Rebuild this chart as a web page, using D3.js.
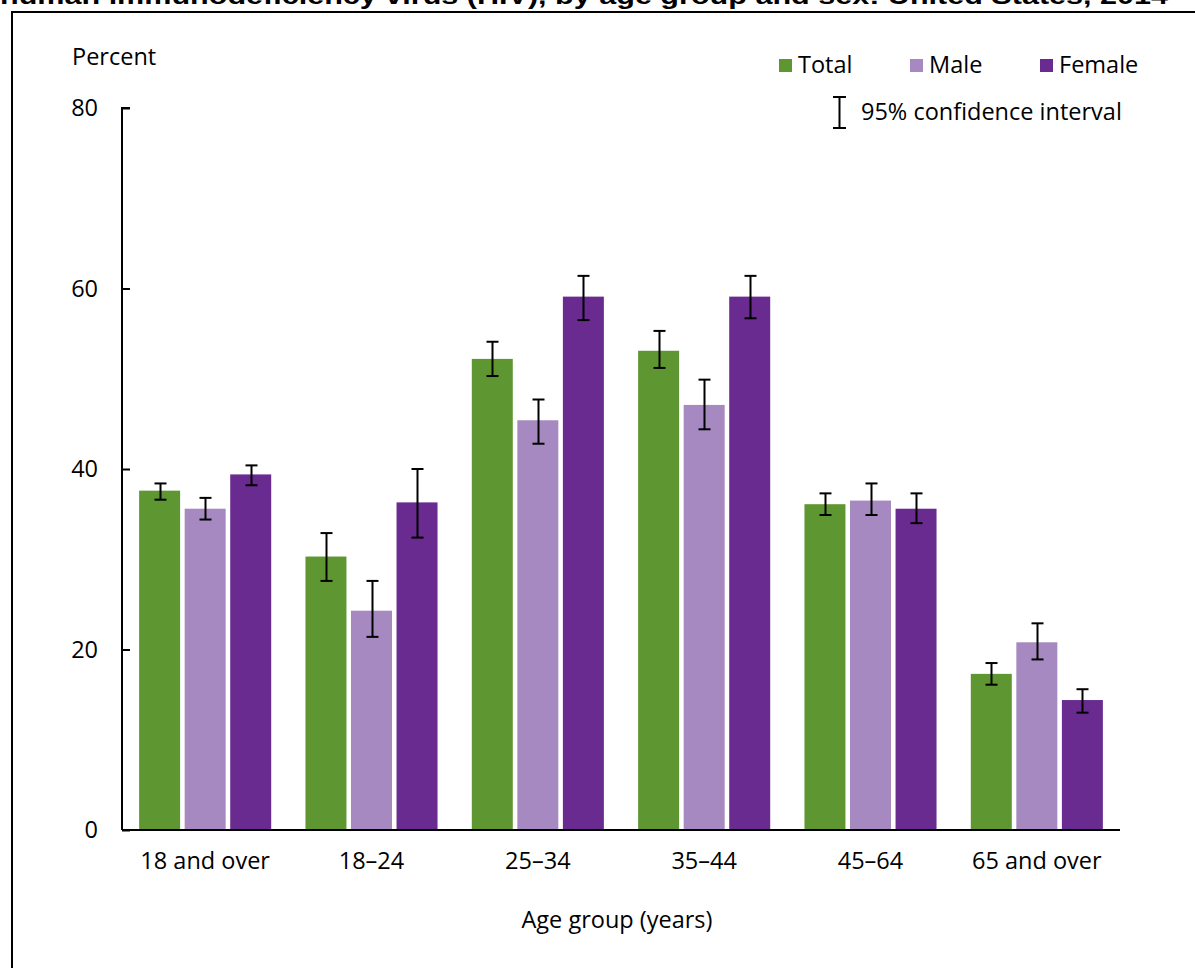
<!DOCTYPE html>
<html><head><meta charset="utf-8">
<script src="https://cdn.jsdelivr.net/npm/d3@7"></script>
<style>body{margin:0;background:#fff}svg{display:block}</style>
</head><body>
<script>
const categories = ["18 and over","18–24","25–34","35–44","45–64","65 and over"];
const seriesNames = ["Total","Male","Female"];
const totalVals  = [37.6, 30.3, 52.2, 53.1, 36.1, 17.3];
const totalLow   = [36.6, 27.6, 50.3, 51.2, 34.9, 16.1];
const totalHigh  = [38.4, 32.9, 54.1, 55.3, 37.3, 18.5];
const maleVals   = [35.6, 24.3, 45.4, 47.1, 36.5, 20.8];
const maleLow    = [34.4, 21.4, 42.8, 44.4, 34.9, 18.9];
const maleHigh   = [36.8, 27.6, 47.7, 49.9, 38.4, 22.9];
const femaleVals = [39.4, 36.3, 59.1, 59.1, 35.6, 14.4];
const femaleLow  = [38.2, 32.4, 56.5, 56.7, 34.0, 13.0];
const femaleHigh = [40.4, 40.0, 61.4, 61.4, 37.3, 15.6];
const yTicks = [0, 20, 40, 60, 80];
const colors = ["#5e9732", "#a589c0", "#692b90"];
const titleText = "human immunodeficiency virus (HIV), by age group and sex: United States, 2014";

const series = [
  {name:"Total", v:totalVals, lo:totalLow, hi:totalHigh},
  {name:"Male", v:maleVals, lo:maleLow, hi:maleHigh},
  {name:"Female", v:femaleVals, lo:femaleLow, hi:femaleHigh}
];
const rows = [];
categories.forEach((c,i)=>series.forEach((s,j)=>rows.push({cat:c, ser:s.name, si:j, v:s.v[i], lo:s.lo[i], hi:s.hi[i]})));

const W=1195, H=968;
const font = "'Open Sans', 'Noto Sans', sans-serif";
const fs = 23.5;
const svg = d3.select("body").append("svg").attr("width",W).attr("height",H);

// title (clipped at top, as in the original)
svg.append("text").attr("x",0).attr("y",4).attr("font-family","'Liberation Sans Narrow','Liberation Sans',sans-serif")
  .attr("font-weight","bold").attr("font-size",24).attr("textLength",1168).attr("lengthAdjust","spacingAndGlyphs")
  .text(titleText);

// frame
svg.append("rect").attr("x",12).attr("y",12).attr("width",W+20).attr("height",H+20)
  .attr("fill","none").attr("stroke","#000").attr("stroke-width",2);

const x0 = 122, x1r = 1120, yTop = 108, yBot = 830;
const x = d3.scaleBand().domain(categories).range([x0, x1r]).paddingInner(0.206).paddingOuter(0.103);
const xs = d3.scaleBand().domain(seriesNames).range([0, x.bandwidth()]).paddingInner(0.1).paddingOuter(0);
const y = d3.scaleLinear().domain([0,80]).range([yBot, yTop]);

// bars
svg.append("g").selectAll("rect").data(rows).join("rect")
  .attr("x", d=>x(d.cat)+xs(d.ser)).attr("width", xs.bandwidth())
  .attr("y", d=>y(d.v)).attr("height", d=>y(0)-y(d.v))
  .attr("fill", d=>colors[d.si]);

// error bars
const eb = svg.append("g").attr("stroke","#000").attr("stroke-width",2);
rows.forEach(d=>{
  const cx = Math.round(x(d.cat)+xs(d.ser)+xs.bandwidth()/2)+0.5;
  eb.append("line").attr("x1",cx).attr("x2",cx).attr("y1",y(d.hi)).attr("y2",y(d.lo));
  eb.append("line").attr("x1",cx-6).attr("x2",cx+6).attr("y1",y(d.hi)).attr("y2",y(d.hi));
  eb.append("line").attr("x1",cx-6).attr("x2",cx+6).attr("y1",y(d.lo)).attr("y2",y(d.lo));
});

// y axis
const yAxis = svg.append("g").attr("transform",`translate(${x0},0)`)
  .call(d3.axisRight(y).tickValues(yTicks).tickSize(8).tickFormat(""));
yAxis.select(".domain").attr("d",`M8,${yTop}H0V${yBot}`).attr("stroke","#000").attr("stroke-width",2);
yAxis.selectAll(".tick line").attr("stroke","#000").attr("stroke-width",2);
svg.append("g").selectAll("text").data(yTicks).join("text")
  .attr("x",98).attr("y",d=>y(d)+8).attr("text-anchor","end")
  .attr("font-family",font).attr("font-size",fs).attr("fill","#000").text(d=>d);

// x axis
const xAxis = svg.append("g").attr("transform",`translate(0,${yBot})`)
  .call(d3.axisBottom(x).tickSize(0).tickPadding(22));
xAxis.select(".domain").attr("d",`M${x0},0H${x1r}`).attr("stroke","#000").attr("stroke-width",2);
xAxis.selectAll(".tick text").attr("font-family",font).attr("font-size",fs).attr("fill","#000").attr("dy","0.71em");

svg.append("text").attr("x",72).attr("y",65).attr("font-family",font).attr("font-size",fs).text("Percent");
svg.append("text").attr("x",617).attr("y",928).attr("text-anchor","middle").attr("font-family",font).attr("font-size",fs).text("Age group (years)");

// legend
const legX = [779, 910, 1040];
seriesNames.forEach((n,i)=>{
  svg.append("rect").attr("x",legX[i]).attr("y",59).attr("width",13).attr("height",13).attr("fill",colors[i]);
  svg.append("text").attr("x",legX[i]+19).attr("y",73).attr("font-family",font).attr("font-size",fs).text(n);
});
const lg = svg.append("g").attr("stroke","#000").attr("stroke-width",2);
lg.append("line").attr("x1",839.5).attr("x2",839.5).attr("y1",97).attr("y2",128);
lg.append("line").attr("x1",833).attr("x2",846).attr("y1",97).attr("y2",97);
lg.append("line").attr("x1",833).attr("x2",846).attr("y1",128).attr("y2",128);
svg.append("text").attr("x",861).attr("y",120).attr("font-family",font).attr("font-size",fs).text("95% confidence interval");
</script>
</body></html>
